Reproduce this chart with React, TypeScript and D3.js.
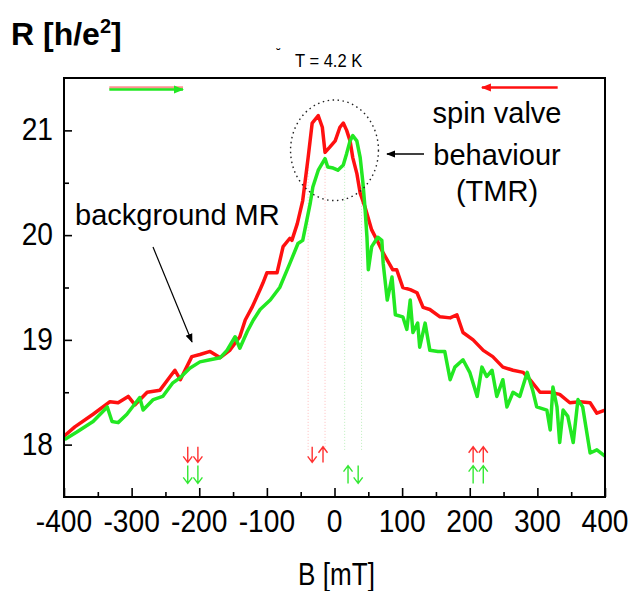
import { useRef, useEffect } from "react";
import * as d3 from "d3";

// field sweep B [mT] and resistance R [h/e^2]
const redB = [-400, -384, -357, -332, -320, -305, -295, -277, -258, -243, -236, -228, -211, -199, -184, -169, -155, -140, -132, -122, -110, -106, -100, -91, -85, -76, -66, -63, -55, -47, -39, -33, -24, -18, -14, -7, 1, 8, 13, 18, 23, 27, 33, 38, 45, 55, 63, 72, 86, 92, 101, 112, 122, 131, 141, 156, 171, 181, 190, 205, 220, 234, 249, 264, 279, 289, 304, 319, 333, 348, 363, 378, 388, 400];
const redR = [18.08, 18.17, 18.29, 18.41, 18.4, 18.46, 18.38, 18.5, 18.52, 18.65, 18.71, 18.62, 18.84, 18.86, 18.89, 18.83, 18.9, 19.03, 19.19, 19.31, 19.48, 19.54, 19.64, 19.64, 19.64, 19.89, 19.97, 19.95, 20.11, 20.33, 20.74, 21.07, 21.14, 21.03, 20.79, 20.84, 20.9, 21.03, 21.07, 21.0, 20.9, 20.74, 20.59, 20.4, 20.27, 20.05, 19.95, 19.83, 19.67, 19.67, 19.5, 19.48, 19.45, 19.31, 19.29, 19.22, 19.21, 19.24, 19.07, 19.0, 18.9, 18.84, 18.74, 18.71, 18.69, 18.62, 18.5, 18.5, 18.48, 18.4, 18.41, 18.4, 18.3, 18.33];

const greenB = [-399, -381, -357, -336, -329, -320, -307, -288, -283, -268, -254, -239, -228, -214, -199, -184, -169, -159, -147, -140, -129, -120, -110, -95, -81, -66, -54, -47, -36, -32, -24, -14, -10, -2, 5, 13, 18, 23, 27, 33, 38, 42, 45, 48, 50, 55, 64, 70, 72, 78, 85, 90, 101, 107, 112, 116, 123, 126, 134, 141, 153, 163, 171, 178, 190, 200, 211, 218, 225, 233, 240, 249, 255, 264, 274, 285, 293, 299, 314, 319, 323, 329, 333, 338, 345, 353, 360, 367, 378, 388, 400];
const greenR = [18.05, 18.12, 18.22, 18.36, 18.22, 18.21, 18.29, 18.45, 18.33, 18.43, 18.46, 18.59, 18.64, 18.73, 18.79, 18.81, 18.83, 18.9, 19.03, 18.92, 19.08, 19.19, 19.29, 19.38, 19.5, 19.73, 19.92, 19.95, 20.3, 20.46, 20.62, 20.73, 20.65, 20.64, 20.62, 20.67, 20.78, 20.9, 20.95, 20.9, 20.74, 20.5, 20.27, 19.98, 19.67, 19.89, 19.98, 19.95, 19.73, 19.38, 19.6, 19.24, 19.22, 19.1, 19.38, 19.07, 19.16, 18.93, 19.16, 18.9, 18.89, 18.89, 18.62, 18.74, 18.81, 18.69, 18.46, 18.74, 18.65, 18.71, 18.46, 18.62, 18.36, 18.5, 18.46, 18.69, 18.52, 18.36, 18.33, 18.14, 18.55, 18.36, 18.02, 18.33, 18.27, 18.02, 18.43, 18.36, 17.92, 17.95, 17.89];

const xMajor = [-400, -300, -200, -100, 0, 100, 200, 300, 400];
const xMinor = [-350, -250, -150, -50, 50, 150, 250, 350];
const yMajor = [18, 19, 20, 21];
const yMinor = [18.5, 19.5, 20.5];

// spin configuration arrows under the curves
const spinB = [-217, -202, -217, -202, -33, -17, 20, 35, 205, 220, 205, 220];
const spinRow = [0, 0, 1, 1, 0, 0, 1, 1, 0, 0, 1, 1];
const spinUp = [false, false, false, false, false, true, true, false, true, true, true, true];

// switching fields (faint guides)
const switchRed = [-39, -14];
const switchGreen = [15, 40];

const W = 631;
const H = 591;
const margin = { top: 78, right: 26, bottom: 94, left: 64 };

const App = () => {
  const svgRef = useRef(null);

  useEffect(() => {
    const svg = d3.select(svgRef.current);
    svg.selectAll("*").remove();

    const x = d3.scaleLinear().domain([-400, 400]).range([margin.left, W - margin.right]);
    const y = d3.scaleLinear().domain([17.5, 21.5]).range([H - margin.bottom, margin.top]);
    const font = "'Liberation Sans', Arial, sans-serif";

    svg.append("defs").html(
      `<marker id="ah" viewBox="0 0 10 10" refX="9" refY="5" markerWidth="9" markerHeight="9" markerUnits="userSpaceOnUse" orient="auto"><path d="M0,1 L10,5 L0,9 Z" fill="black"/></marker>
       <marker id="ahg" viewBox="0 0 10 10" refX="9" refY="5" markerWidth="10" markerHeight="10" markerUnits="userSpaceOnUse" orient="auto"><path d="M0,1 L10,5 L0,9 Z" fill="#22e822"/></marker>
       <marker id="ahr" viewBox="0 0 10 10" refX="9" refY="5" markerWidth="10" markerHeight="10" markerUnits="userSpaceOnUse" orient="auto"><path d="M0,1 L10,5 L0,9 Z" fill="#ff1010"/></marker>`
    );

    // faint switching-field guides
    const guides = [
      ...switchRed.map((b) => ({ b, c: "#ff8080" })),
      ...switchGreen.map((b) => ({ b, c: "#80e080" })),
    ];
    svg
      .selectAll(".guide")
      .data(guides)
      .join("line")
      .attr("x1", (d) => x(d.b))
      .attr("x2", (d) => x(d.b))
      .attr("y1", y(17.95))
      .attr("y2", y(20.7))
      .attr("stroke", (d) => d.c)
      .attr("stroke-width", 1)
      .attr("stroke-dasharray", "1,2")
      .attr("opacity", 0.5);

    const line = d3
      .line<number>()
      .x((d, i) => x(d))
      .curve(d3.curveLinear);

    const redPts = redB.map((b, i) => [b, redR[i]] as [number, number]);
    const greenPts = greenB.map((b, i) => [b, greenR[i]] as [number, number]);
    const pathGen = d3
      .line<[number, number]>()
      .x((d) => x(d[0]))
      .y((d) => y(d[1]));

    svg
      .append("path")
      .attr("d", pathGen(redPts))
      .attr("fill", "none")
      .attr("stroke", "#ff1010")
      .attr("stroke-width", 3.5)
      .attr("stroke-linejoin", "round");

    svg
      .append("path")
      .attr("d", pathGen(greenPts))
      .attr("fill", "none")
      .attr("stroke", "#22e822")
      .attr("stroke-width", 3.5)
      .attr("stroke-linejoin", "round");

    // frame
    svg
      .append("rect")
      .attr("x", x(-400))
      .attr("y", y(21.5))
      .attr("width", x(400) - x(-400))
      .attr("height", y(17.5) - y(21.5))
      .attr("fill", "none")
      .attr("stroke", "black")
      .attr("stroke-width", 2);

    // ticks, pointing inwards
    const tickAxis = (g, axis) => {
      g.call(axis);
      g.select(".domain").remove();
      g.selectAll("line").attr("stroke-width", 1.6);
    };
    svg
      .append("g")
      .attr("transform", `translate(0,${y(17.5)})`)
      .call((g) => tickAxis(g, d3.axisBottom(x).tickValues(xMajor).tickSize(-9).tickFormat(() => "")));
    svg
      .append("g")
      .attr("transform", `translate(0,${y(17.5)})`)
      .call((g) => tickAxis(g, d3.axisBottom(x).tickValues(xMinor).tickSize(-5).tickFormat(() => "")));
    svg
      .append("g")
      .attr("transform", `translate(${x(-400)},0)`)
      .call((g) => tickAxis(g, d3.axisLeft(y).tickValues(yMajor).tickSize(-8).tickFormat(() => "")));
    svg
      .append("g")
      .attr("transform", `translate(${x(-400)},0)`)
      .call((g) => tickAxis(g, d3.axisLeft(y).tickValues(yMinor).tickSize(-5).tickFormat(() => "")));

    // tick labels
    svg
      .selectAll(".xl")
      .data(xMajor)
      .join("text")
      .attr("transform", (d) => `translate(${x(d)},${y(17.5) + 35}) scale(0.88,1)`)
      .attr("text-anchor", "middle")
      .attr("font-family", font)
      .attr("font-size", 32)
      .text((d) => String(d));
    svg
      .selectAll(".yl")
      .data(yMajor)
      .join("text")
      .attr("transform", (d) => `translate(${x(-400) - 11},${y(d) + 10}) scale(0.88,1)`)
      .attr("text-anchor", "end")
      .attr("font-family", font)
      .attr("font-size", 32)
      .text((d) => String(d));

    // axis titles
    const yt = svg
      .append("text")
      .attr("x", 11)
      .attr("y", 45)
      .attr("font-family", font)
      .attr("font-size", 32)
      .attr("font-weight", "bold");
    yt.append("tspan").text("R [h/e");
    yt.append("tspan").attr("dy", -12).attr("font-size", 20).text("2");
    yt.append("tspan").attr("dy", 12).text("]");

    svg
      .append("text")
      .attr("transform", `translate(${(x(-400) + x(400)) / 2 + 2},585) scale(0.9,1.08)`)
      .attr("text-anchor", "middle")
      .attr("font-family", font)
      .attr("font-size", 29)
      .text("B [mT]");

    svg
      .append("text")
      .attr("x", 275)
      .attr("y", 58)
      .attr("font-family", "'DejaVu Sans', sans-serif")
      .attr("font-size", 13)
      .text("˘");
    svg
      .append("text")
      .attr("transform", "translate(295,67) scale(0.92,1)")
      .attr("font-family", font)
      .attr("font-size", 18)
      .text("T = 4.2 K");

    // sweep direction arrows
    svg
      .append("line")
      .attr("x1", x(-333))
      .attr("x2", x(-224))
      .attr("y1", y(21.41))
      .attr("y2", y(21.41))
      .attr("stroke", "#ff9090")
      .attr("stroke-width", 2.5);
    svg
      .append("line")
      .attr("x1", x(-333))
      .attr("x2", x(-224))
      .attr("y1", y(21.4) + 1)
      .attr("y2", y(21.4) + 1)
      .attr("stroke", "#22e822")
      .attr("stroke-width", 2.5)
      .attr("marker-end", "url(#ahg)");
    svg
      .append("line")
      .attr("x1", x(330))
      .attr("x2", x(218))
      .attr("y1", y(21.41))
      .attr("y2", y(21.41))
      .attr("stroke", "#ff1010")
      .attr("stroke-width", 2.5)
      .attr("marker-end", "url(#ahr)");

    // spin valve region
    svg
      .append("ellipse")
      .attr("cx", x(0))
      .attr("cy", y(20.81))
      .attr("rx", x(65) - x(0))
      .attr("ry", y(20.81) - y(21.29))
      .attr("fill", "none")
      .attr("stroke", "#222")
      .attr("stroke-width", 1.4)
      .attr("stroke-dasharray", "1.5,3.5");

    const label = (lines, cx, ys, size) => {
      lines.forEach((t, i) =>
        svg
          .append("text")
          .attr("x", cx)
          .attr("y", ys[i])
          .attr("text-anchor", "middle")
          .attr("font-family", font)
          .attr("font-size", size)
          .text(t)
      );
    };
    label(["spin valve", "behaviour", "(TMR)"], 497, [123, 165, 201], 29);
    svg
      .append("line")
      .attr("x1", 424)
      .attr("x2", 387)
      .attr("y1", 154)
      .attr("y2", 154)
      .attr("stroke", "black")
      .attr("stroke-width", 1.5)
      .attr("marker-end", "url(#ah)");

    svg
      .append("text")
      .attr("x", 75)
      .attr("y", 225)
      .attr("font-family", font)
      .attr("font-size", 29)
      .text("background MR");
    svg
      .append("line")
      .attr("x1", 153)
      .attr("y1", 247)
      .attr("x2", 192)
      .attr("y2", 342)
      .attr("stroke", "black")
      .attr("stroke-width", 1.2)
      .attr("marker-end", "url(#ah)");

    // spin arrows
    const rowTop = [17.98, 17.8];
    const rowBot = [17.83, 17.63];
    const rowColor = ["#ff3030", "#33e833"];
    const spins = spinB.map((b, i) => ({ b, row: spinRow[i], up: spinUp[i] }));
    svg
      .selectAll(".spin")
      .data(spins)
      .join("path")
      .attr("d", (d) => {
        const px = x(d.b);
        const t = y(rowTop[d.row]);
        const bt = y(rowBot[d.row]);
        if (d.up) return `M${px},${bt}L${px},${t}M${px - 4.5},${t + 6}L${px},${t}L${px + 4.5},${t + 6}`;
        return `M${px},${t}L${px},${bt}M${px - 4.5},${bt - 6}L${px},${bt}L${px + 4.5},${bt - 6}`;
      })
      .attr("fill", "none")
      .attr("stroke", (d) => rowColor[d.row])
      .attr("stroke-width", 1.4);
  }, []);

  return (
    <svg
      ref={svgRef}
      width={W}
      height={H}
      style={{ position: "absolute", left: 0, top: 0, background: "white" }}
    />
  );
};

export default App;
